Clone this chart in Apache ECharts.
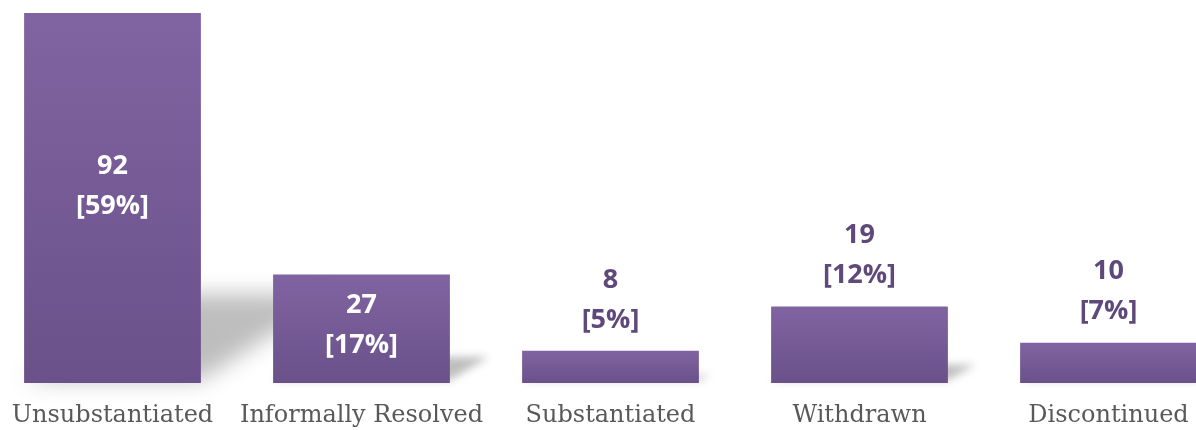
<!DOCTYPE html>
<html><head><meta charset="utf-8">
<script src="https://cdn.jsdelivr.net/npm/echarts@6/dist/echarts.min.js"></script>
<style>html,body{margin:0;padding:0;background:#fff}#c{width:1196px;height:430px}</style>
</head><body><div id="c"></div>
<script>
const categories = ['Unsubstantiated', 'Informally Resolved', 'Substantiated', 'Withdrawn', 'Discontinued'];
const counts = [92, 27, 8, 19, 10];
const percents = [59, 17, 5, 12, 7];
const insideLabel = [true, true, false, false, false];

const chart = echarts.init(document.getElementById('c'));
const barData = counts.map((v, i) => ({
  value: v,
  label: insideLabel[i]
    ? { position: 'inside', color: '#ffffff', offset: [0, i === 0 ? -12 : -3] }
    : { position: 'top', color: '#5f497a', distance: 11 }
}));

const SHIFT = 3000;
chart.setOption({
  animation: false,
  grid: { left: -12, width: 1245, top: 13, bottom: 47, containLabel: false, outerBoundsMode: 'none' },
  xAxis: {
    type: 'category', data: categories,
    axisLine: { show: false }, axisTick: { show: false },
    axisLabel: { color: '#595959', fontFamily: 'DejaVu Serif', fontSize: 24, margin: 21, interval: 0 }
  },
  yAxis: { type: 'value', min: 0, max: 92, show: false, splitLine: { show: false } },
  series: [
    {
      type: 'custom', z: 1, silent: true, clip: false,
      data: counts.map((v, i) => [i, v]),
      renderItem: function (params, api) {
        const base = api.coord([api.value(0), 0]);
        const top = api.coord([api.value(0), api.value(1)]);
        const w = api.size([1, 0])[0] * 0.71;
        const h = base[1] - top[1];
        const x0 = base[0] - w / 2 + SHIFT, x1 = base[0] + w / 2 + SHIFT, yb = base[1];
        const sh = h * 0.24, dx = h * 0.36;
        return {
          type: 'polygon',
          shape: { points: [[x0, yb - 3], [x1, yb - 3], [x1 + dx, yb - sh], [x0 + dx, yb - sh]] },
          style: {
            fill: '#000',
            shadowBlur: Math.max(8, Math.min(22, h * 0.08)),
            shadowColor: 'rgba(0,0,0,0.26)',
            shadowOffsetX: -SHIFT, shadowOffsetY: 0
          }
        };
      }
    },
    {
      type: 'bar', z: 2,
      data: barData,
      barCategoryGap: '29%',
      itemStyle: {
        color: new echarts.graphic.LinearGradient(0, 0, 0, 1, [
          { offset: 0, color: '#8064a2' },
          { offset: 1, color: '#6a5189' }
        ])
      },
      label: {
        show: true,
        fontFamily: 'Open Sans', fontWeight: 'bold', fontSize: 27, lineHeight: 40,
        formatter: function (p) { return p.value + '\n[' + percents[p.dataIndex] + '%]'; }
      }
    }
  ]
});
</script></body></html>
